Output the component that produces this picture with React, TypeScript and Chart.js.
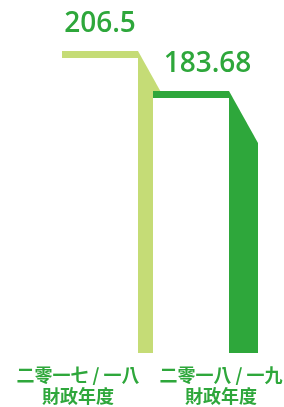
import React, { useEffect, useRef } from "react";
import { Chart, registerables } from "chart.js";

Chart.register(...registerables);

// ---- data ----
const categories: string[][] = [
  ["二零一七 / 一八", "財政年度"],
  ["二零一八 / 一九", "財政年度"],
];
const values: number[] = [206.5, 183.68];
const valueLabels: string[] = ["206.5", "183.68"];

// ---- styles ----
const barColors = ["#c5dc76", "#2ea73b"];
const textColor = "#2ea73b";
const shapeShift = [60, 8]; // horizontal offset of each ribbon from its category tick
const labelShift = [22, -13.5]; // horizontal offset of each value label from its category tick
const ribbonWidth = 29;
const stripLength = 76;
const stripThick = 7;
const slantDrop = 52;

const ribbonPlugin = {
  id: "ribbons",
  afterDatasetsDraw(chart: any) {
    const ctx = chart.ctx;
    const meta = chart.getDatasetMeta(0);
    const base = chart.chartArea.bottom;
    ctx.save();
    meta.data.forEach((el: any, i: number) => {
      const ax = el.x + shapeShift[i];
      const top = el.y;
      if (i > 0) {
        ctx.fillStyle = "#ffffff";
        ctx.fillRect(ax - stripLength, top, stripLength, base - top);
      }
      ctx.fillStyle = barColors[i];
      ctx.fillRect(ax - stripLength, top, stripLength, stripThick);
      ctx.beginPath();
      ctx.moveTo(ax, top);
      ctx.lineTo(ax + ribbonWidth, top + slantDrop);
      ctx.lineTo(ax + ribbonWidth, base);
      ctx.lineTo(ax, base);
      ctx.closePath();
      ctx.fill();
    });
    meta.data.forEach((el: any, i: number) => {
      ctx.fillStyle = textColor;
      ctx.font = "600 28px 'Open Sans'";
      ctx.textAlign = "center";
      ctx.textBaseline = "alphabetic";
      ctx.fillText(valueLabels[i], el.x + labelShift[i], el.y - 19);
    });
    ctx.restore();
  },
};

export default function App() {
  const ref = useRef<HTMLCanvasElement | null>(null);
  useEffect(() => {
    document.body.style.margin = "0";
    if (!ref.current) return;
    const chart = new Chart(ref.current, {
      type: "bar",
      data: {
        labels: categories,
        datasets: [
          {
            data: values,
            backgroundColor: "rgba(0,0,0,0)",
            borderWidth: 0,
          },
        ],
      },
      options: {
        animation: false,
        responsive: false,
        maintainAspectRatio: false,
        layout: { padding: { left: 78, right: 63, top: 0, bottom: 0 } },
        plugins: {
          legend: { display: false },
          tooltip: { enabled: false },
        },
        scales: {
          x: {
            offset: false,
            grid: { display: false, drawTicks: false },
            border: { display: false },
            ticks: {
              color: textColor,
              font: { family: "'Noto Sans CJK TC'", size: 18, weight: "bold", lineHeight: 1.15 },
              padding: 12,
              maxRotation: 0,
              autoSkip: false,
            },
            afterFit: (scale: any) => {
              scale.height = 54;
              scale.paddingLeft = 0;
              scale.paddingRight = 0;
            },
          },
          y: {
            display: false,
            min: 34.2,
            max: 235.6,
          },
        },
      },
      plugins: [ribbonPlugin],
    });
    return () => chart.destroy();
  }, []);
  return (
    <div style={{ width: 284, height: 407 }}>
      <canvas ref={ref} width={284} height={407} style={{ display: "block" }} />
    </div>
  );
}
